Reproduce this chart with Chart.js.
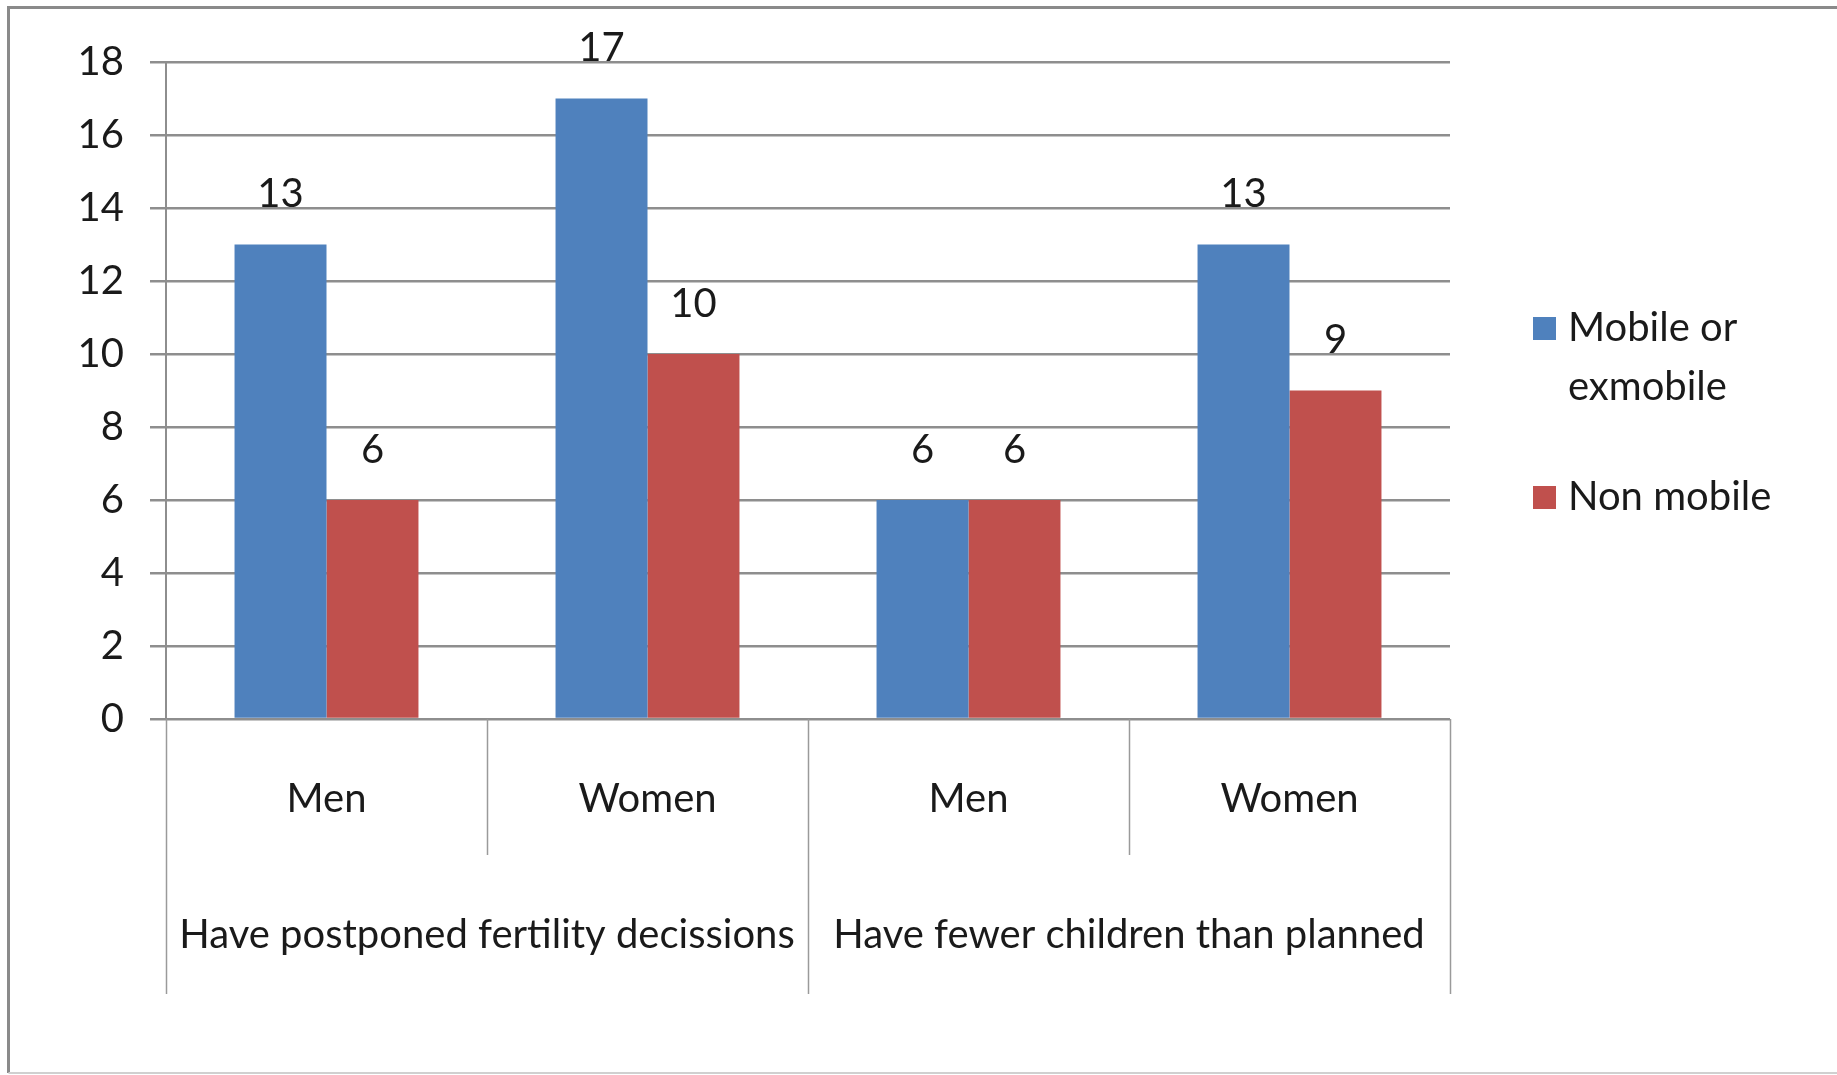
<!DOCTYPE html>
<html>
<head>
<meta charset="utf-8">
<title>Fertility decisions by mobility</title>
<script src="https://cdn.jsdelivr.net/npm/chart.js@4.4.1/dist/chart.umd.min.js"></script>
<style>
  html, body { margin: 0; padding: 0; background: #fff; }
  canvas { display: block; }
</style>
</head>
<body>
<canvas id="fertilityChart" width="1837" height="1075"></canvas>
<script>
// categories: two groups, each split by sex
var groups = ["Have postponed fertility decissions", "Have fewer children than planned"];
var sexes = ["Men", "Women"];
var categories = ["Men", "Women", "Men", "Women"];

var seriesNames = ["Mobile or exmobile", "Non mobile"];
var mobileValues = [13, 17, 6, 13];
var nonMobileValues = [6, 10, 6, 9];

var yTicks = [0, 2, 4, 6, 8, 10, 12, 14, 16, 18];

var colourList = ["#4f81bd", "#c0504d"];
var fontFamily = "Lato, 'Open Sans', sans-serif";
var textSize = 40;
var textColour = "#1a1a1a";
var gridColour = "#8e8e8e";

// wrap legend text to a max width
function wrapText(ctx, text, maxWidth){
    var words = text.split(" ");
    var lines = [];
    var line = "";
    for(var i=0; i<words.length; i++){
        var test = line == "" ? words[i] : line + " " + words[i];
        if(ctx.measureText(test).width > maxWidth && line != ""){
            lines.push(line);
            line = words[i];
        } else {
            line = test;
        }
    }
    lines.push(line);
    return lines;
}

// frame, group labels, separators, value labels and legend
var extrasPlugin = {
    id: "extras",
    beforeDraw: function(chart){
        var ctx = chart.ctx;
        ctx.save();
        ctx.fillStyle = "#fff";
        ctx.fillRect(0, 0, chart.width, chart.height);
        ctx.strokeStyle = "#8a8a8a";
        ctx.lineWidth = 3;
        ctx.beginPath();
        ctx.moveTo(1900, 7.5);
        ctx.lineTo(8.5, 7.5);
        ctx.lineTo(8.5, 1073);
        ctx.stroke();
        ctx.strokeStyle = "#d0d0d0";
        ctx.lineWidth = 2;
        ctx.beginPath();
        ctx.moveTo(8.5, 1073);
        ctx.lineTo(1900, 1073);
        ctx.stroke();
        ctx.restore();
    },
    afterDraw: function(chart){
        var ctx = chart.ctx;
        var xScale = chart.scales.x;
        var area = chart.chartArea;
        ctx.save();

        // category separators below the axis
        var half = (xScale.getPixelForValue(1) - xScale.getPixelForValue(0)) / 2;
        ctx.strokeStyle = "#9a9a9a";
        ctx.lineWidth = 1.5;
        for(var i=0; i<=categories.length; i++){
            var x = i == 0 ? area.left : xScale.getPixelForValue(i - 1) + half;
            var isGroupEdge = (i % sexes.length) == 0;
            ctx.beginPath();
            ctx.moveTo(Math.round(x) + 0.5, area.bottom);
            ctx.lineTo(Math.round(x) + 0.5, isGroupEdge ? 994 : 855);
            ctx.stroke();
        }

        // group labels
        ctx.font = textSize + "px " + fontFamily;
        ctx.fillStyle = textColour;
        ctx.textAlign = "center";
        ctx.textBaseline = "middle";
        for(var g=0; g<groups.length; g++){
            var first = xScale.getPixelForValue(g * sexes.length);
            var last = xScale.getPixelForValue(g * sexes.length + sexes.length - 1);
            ctx.fillText(groups[g], (first + last) / 2, 935);
        }

        // value labels above bars
        for(var d=0; d<chart.data.datasets.length; d++){
            var meta = chart.getDatasetMeta(d);
            var values = chart.data.datasets[d].data;
            for(var k=0; k<meta.data.length; k++){
                var bar = meta.data[k];
                ctx.fillText(values[k], bar.x, bar.y - 50);
            }
        }

        // legend
        ctx.textAlign = "left";
        var legendY = [328, 497];
        for(var s=0; s<chart.data.datasets.length; s++){
            var ds = chart.data.datasets[s];
            var lines = wrapText(ctx, ds.label, 230);
            ctx.fillStyle = ds.backgroundColor;
            ctx.fillRect(1533, legendY[s] - 11, 23, 23);
            ctx.fillStyle = textColour;
            for(var l=0; l<lines.length; l++){
                ctx.fillText(lines[l], 1568, legendY[s] + l * 59);
            }
        }
        ctx.restore();
    }
};

var fertilityChart = new Chart("fertilityChart", {
    type: "bar",
    data: {
        labels: categories,
        datasets: [
            {
                label: seriesNames[0],
                data: mobileValues,
                backgroundColor: colourList[0],
                categoryPercentage: 0.573,
                barPercentage: 1
            },
            {
                label: seriesNames[1],
                data: nonMobileValues,
                backgroundColor: colourList[1],
                categoryPercentage: 0.573,
                barPercentage: 1
            }
        ]
    },
    options: {
        responsive: false,
        animation: false,
        devicePixelRatio: 1,
        layout: {
            padding: { left: 20, top: 62, right: 387, bottom: 0 }
        },
        plugins: {
            legend: { display: false },
            tooltip: { enabled: false }
        },
        scales: {
            x: {
                grid: { display: false, drawTicks: false },
                border: { display: false },
                ticks: {
                    color: textColour,
                    padding: 56,
                    font: { family: fontFamily, size: textSize }
                },
                afterFit: function(scale){ scale.height = 356; }
            },
            y: {
                min: 0,
                max: 18,
                afterBuildTicks: function(scale){
                    scale.ticks = yTicks.map(function(v){ return { value: v }; });
                },
                grid: {
                    color: gridColour,
                    lineWidth: 2.5,
                    tickLength: 16
                },
                border: { display: true, color: gridColour, width: 2 },
                ticks: {
                    color: textColour,
                    padding: 26,
                    font: { family: fontFamily, size: textSize }
                },
                afterFit: function(scale){ scale.width = 146; }
            }
        }
    },
    plugins: [extrasPlugin]
});
</script>
</body>
</html>
